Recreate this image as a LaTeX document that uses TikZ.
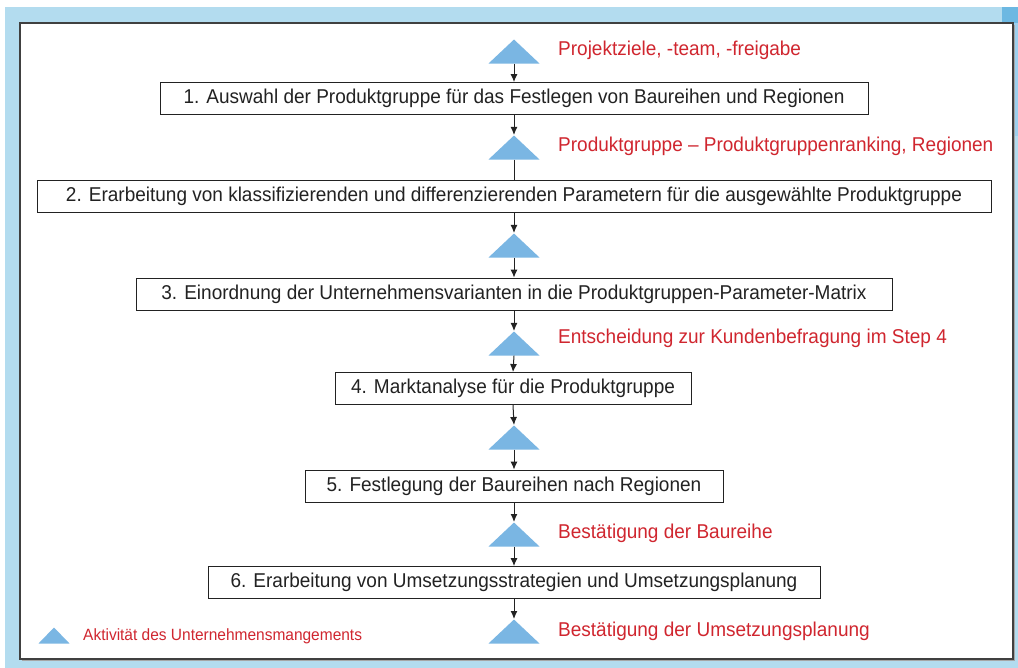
\documentclass[tikz,border=0pt]{standalone}
\usepackage{fontspec}
\setmainfont{Liberation Sans}[FakeStretch=0.95]
\usetikzlibrary{shapes.geometric,arrows.meta}
\definecolor{bgblue}{HTML}{B3DCEF}
\definecolor{barblue}{HTML}{9DD0EE}
\definecolor{bardark}{HTML}{6CB8E2}
\definecolor{triblue}{HTML}{7AB6E3}
\definecolor{labred}{HTML}{D0262F}
\definecolor{txt}{HTML}{222222}
\tikzset{
  stepbox/.style={draw=txt, line width=0.9pt, minimum height=32pt, inner sep=0pt, font=\fontsize{20}{22}\selectfont, text=txt, fill=white},
  tri/.style={isosceles triangle, isosceles triangle stretches, shape border rotate=90, fill=triblue, inner sep=0pt, minimum height=24pt, minimum width=51pt, anchor=apex},
  lab/.style={anchor=west, text=labred, font=\fontsize{20}{22}\selectfont, inner sep=0pt},
  conn/.style={-{Latex[length=8pt,width=7pt]}, line width=1pt, draw=txt},
  plain/.style={line width=1pt, draw=txt}
}
\begin{document}
\begin{tikzpicture}[x=1pt,y=-1pt]
\useasboundingbox (0,0) rectangle (1018,668);
% background
\fill[white] (0,0) rectangle (1018,668);
\fill[bgblue] (5,7) rectangle (1018,668);
\fill[barblue] (1002,7) rectangle (1018,136);
\fill[bardark] (1002,7) rectangle (1018,23);
\fill[gray!70] (22,25) rectangle (1015,661);
\draw[fill=white, draw=black!75, line width=1.4pt] (20,23) rectangle (1013,659);
% boxes
\node[stepbox, minimum width=708pt] (b1) at (514,98.5) {1. Auswahl der Produktgruppe für das Festlegen von Baureihen und Regionen};
\node[stepbox, minimum width=954pt] (b2) at (514,196) {2. Erarbeitung von klassifizierenden und differenzierenden Parametern für die ausgewählte Produktgruppe};
\node[stepbox, minimum width=756pt] (b3) at (514,294) {3. Einordnung der Unternehmensvarianten in die Produktgruppen-Parameter-Matrix};
\node[stepbox, minimum width=356pt] (b4) at (513,388.5) {4. Marktanalyse für die Produktgruppe};
\node[stepbox, minimum width=418pt] (b5) at (514,486) {5. Festlegung der Baureihen nach Regionen};
\node[stepbox, minimum width=612pt] (b6) at (514,582.5) {6. Erarbeitung von Umsetzungsstrategien und Umsetzungsplanung};
% triangles
\node[tri] (t1) at (514,39) {};
\node[tri] (t2) at (514,135) {};
\node[tri] (t3) at (514,233) {};
\node[tri] (t4) at (514,331) {};
\node[tri] (t5) at (514,425) {};
\node[tri] (t6) at (514,522) {};
\node[tri] (t7) at (514,619) {};
% connectors
\draw[conn] (t1.south) -- (b1.north);
\draw[conn] (b1.south) -- (t2.apex);
\draw[plain] (t2.south) -- (b2.north);
\draw[conn] (b2.south) -- (t3.apex);
\draw[conn] (t3.south) -- (b3.north);
\draw[conn] (b3.south) -- (t4.apex);
\draw[conn] (t4.south) -- (b4.north);
\draw[conn] (b4.south) -- (t5.apex);
\draw[conn] (t5.south) -- (b5.north);
\draw[conn] (b5.south) -- (t6.apex);
\draw[conn] (t6.south) -- (b6.north);
\draw[conn] (b6.south) -- (t7.apex);
% labels
\node[lab] (l1) at (558,50) {Projektziele, -team, -freigabe};
\node[lab] (l2) at (558,146) {Produktgruppe – Produktgruppenranking, Regionen};
\node[lab] (l4) at (558,338) {Entscheidung zur Kundenbefragung im Step 4};
\node[lab] (l6) at (558,533) {Bestätigung der Baureihe};
\node[lab] (l7) at (558,631) {Bestätigung der Umsetzungsplanung};
% legend
\node[isosceles triangle, isosceles triangle stretches, shape border rotate=90, fill=triblue, inner sep=0pt, minimum height=16pt, minimum width=31pt, anchor=apex] (lt) at (54,627) {};
\node[anchor=west, text=labred, font=\fontsize{16.3}{18}\selectfont, inner sep=0pt] (ltx) at (83,636) {Aktivität des Unternehmensmangements};
\end{tikzpicture}
\end{document}
